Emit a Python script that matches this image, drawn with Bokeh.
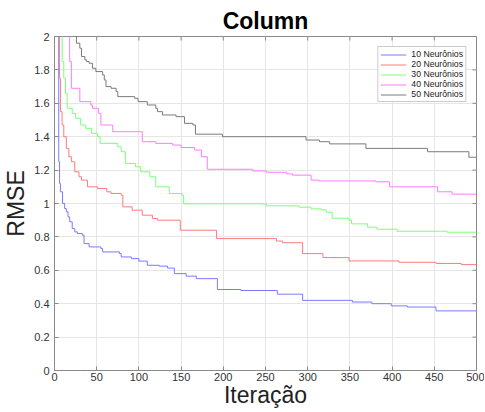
import math
from bokeh.plotting import figure
from bokeh.models import Range1d, Legend, LegendItem, FixedTicker
from bokeh.embed import file_html
from bokeh.resources import INLINE

# ---- data ----
it_10 = [1, 5, 6, 7, 9.5, 12, 14, 16, 18, 21, 24, 27, 33, 35, 41, 55, 57, 77, 79, 91, 100, 110, 124, 134, 142, 156, 168, 193, 221, 264, 294, 353, 376, 399, 418, 452, 500]
rmse_10 = [3.0, 1.25, 1.12, 1.07, 1.0, 0.97, 0.95, 0.92, 0.89, 0.85, 0.83, 0.82, 0.81, 0.76, 0.74, 0.73, 0.71, 0.70, 0.68, 0.67, 0.655, 0.63, 0.625, 0.613, 0.58, 0.565, 0.55, 0.485, 0.479, 0.457, 0.42, 0.41, 0.40, 0.387, 0.38, 0.357, 0.357]

it_20 = [1, 6, 7, 9, 11, 14, 17, 20, 24, 29, 32, 39, 51, 62, 67, 79, 81, 92, 104, 116, 122, 149, 192, 263, 270, 294, 318, 349, 408, 452, 482, 500]
rmse_20 = [3.0, 1.75, 1.55, 1.47, 1.40, 1.33, 1.28, 1.25, 1.19, 1.16, 1.14, 1.10, 1.09, 1.07, 1.06, 1.05, 0.98, 0.96, 0.93, 0.91, 0.90, 0.84, 0.79, 0.775, 0.765, 0.70, 0.676, 0.656, 0.648, 0.641, 0.634, 0.634]

it_30 = [1, 9, 11, 13, 15, 21, 25, 31, 37, 44, 51, 54, 75, 79, 84, 96, 102, 113, 120, 136, 151, 153, 251, 290, 304, 316, 322, 329, 349, 352, 371, 382, 406, 465, 500]
rmse_30 = [3.0, 1.85, 1.75, 1.66, 1.57, 1.54, 1.51, 1.47, 1.45, 1.42, 1.40, 1.36, 1.34, 1.31, 1.24, 1.22, 1.19, 1.16, 1.10, 1.06, 1.05, 0.998, 0.986, 0.978, 0.968, 0.962, 0.948, 0.912, 0.90, 0.878, 0.858, 0.846, 0.834, 0.828, 0.828]

it_40 = [1, 18, 20, 30, 43, 45, 52, 55, 69, 104, 120, 140, 150, 166, 174, 181, 235, 251, 275, 282, 304, 313, 381, 397, 454, 471, 500]
rmse_40 = [3.0, 1.85, 1.69, 1.61, 1.59, 1.57, 1.54, 1.47, 1.43, 1.37, 1.36, 1.35, 1.335, 1.32, 1.28, 1.205, 1.195, 1.187, 1.177, 1.17, 1.14, 1.135, 1.13, 1.10, 1.07, 1.056, 1.056]

it_50 = [1, 24, 26, 30, 32, 36, 38, 41, 45, 49, 57, 59, 61, 67, 73, 75, 95, 99, 110, 120, 122, 128, 144, 154, 164, 167, 199, 298, 314, 326, 369, 442, 491, 500]
rmse_50 = [3.0, 2.05, 1.96, 1.93, 1.88, 1.86, 1.85, 1.84, 1.81, 1.79, 1.77, 1.74, 1.70, 1.69, 1.67, 1.64, 1.63, 1.61, 1.59, 1.57, 1.55, 1.53, 1.52, 1.48, 1.47, 1.415, 1.40, 1.38, 1.37, 1.357, 1.33, 1.31, 1.277, 1.277]

series_names = ["10 Neurônios", "20 Neurônios", "30 Neurônios", "40 Neurônios", "50 Neurônios"]
series_x = [it_10, it_20, it_30, it_40, it_50]
series_y = [rmse_10, rmse_20, rmse_30, rmse_40, rmse_50]
series_colors = ["#7b7bff", "#ff7b7b", "#7bff7b", "#ff7bff", "#7b7b7b"]

x_ticks = [0, 50, 100, 150, 200, 250, 300, 350, 400, 450, 500]
y_ticks = [0, 0.2, 0.4, 0.6, 0.8, 1.0, 1.2, 1.4, 1.6, 1.8, 2.0]
y_tick_labels = {0: "0", 0.2: "0.2", 0.4: "0.4", 0.6: "0.6", 0.8: "0.8", 1.0: "1",
                 1.2: "1.2", 1.4: "1.4", 1.6: "1.6", 1.8: "1.8", 2.0: "2"}

X_MIN, X_MAX = 0, 500
Y_MIN, Y_MAX = 0, 2

FONT = "Liberation Sans"
AXC = "#8a8a8a"

p = figure(frame_width=422, frame_height=334, output_backend="svg", toolbar_location=None,
           x_range=Range1d(X_MIN, X_MAX), y_range=Range1d(Y_MIN, Y_MAX),
           title="Column", min_border_left=48, min_border_right=8,
           min_border_top=36, min_border_bottom=0)

p.title.align = "center"
p.title.text_font = FONT
p.title.text_font_size = "23px"
p.title.text_font_style = "bold"
p.title.text_color = "#000000"
p.title.offset = 0
p.title.standoff = 5

p.outline_line_color = AXC
p.outline_line_width = 1
p.background_fill_color = "white"
p.border_fill_color = "white"

for ax in p.xaxis + p.yaxis:
    ax.axis_line_color = AXC
    ax.major_tick_line_color = AXC
    ax.major_tick_in = 4
    ax.major_tick_out = 0
    ax.minor_tick_line_color = None
    ax.major_label_text_font = FONT
    ax.major_label_text_font_size = "11px"
    ax.major_label_text_color = "#333333"
    ax.axis_label_text_font = FONT
    ax.axis_label_text_font_size = "23px"
    ax.axis_label_text_font_style = "normal"
    ax.axis_label_text_color = "#222222"

p.xaxis.major_label_standoff = 2
p.xaxis.axis_label_standoff = -2
p.yaxis.major_label_standoff = 5
p.yaxis.axis_label_standoff = 2

p.xaxis.ticker = FixedTicker(ticks=x_ticks)
p.yaxis.ticker = FixedTicker(ticks=y_ticks)
p.yaxis.major_label_overrides = y_tick_labels
p.xaxis.axis_label = "Iteração"
p.yaxis.axis_label = "RMSE"

# mirrored inward tick marks on the top and right edges (half of each dash is clipped)
p.scatter(x=x_ticks, y=[Y_MAX] * len(x_ticks), marker="dash", size=8, angle=math.pi / 2,
          line_color=AXC, line_width=1)
p.scatter(x=[X_MAX] * len(y_ticks), y=y_ticks, marker="dash", size=8,
          line_color=AXC, line_width=1)

p.xgrid.ticker = FixedTicker(ticks=x_ticks)
p.ygrid.ticker = FixedTicker(ticks=y_ticks)
p.xgrid.grid_line_color = "#e6e6e6"
p.ygrid.grid_line_color = "#e6e6e6"

items = []
for name, xs, ys, c in zip(series_names, series_x, series_y, series_colors):
    r = p.step(xs, ys, mode="after", line_color=c, line_width=1.0)
    items.append(LegendItem(label=name, renderers=[r]))

legend = Legend(items=items, location="top_right")
legend.margin = 10
legend.padding = 2
legend.spacing = 0
legend.label_text_font = FONT
legend.label_text_font_size = "8.7px"
legend.label_text_color = "#222222"
legend.label_height = 9
legend.glyph_height = 9
legend.glyph_width = 26
legend.label_standoff = 5
legend.border_line_color = "#999999"
legend.background_fill_color = "white"
legend.background_fill_alpha = 1.0
p.add_layout(legend, "center")

open("out.html", "w").write(file_html(p, INLINE))
